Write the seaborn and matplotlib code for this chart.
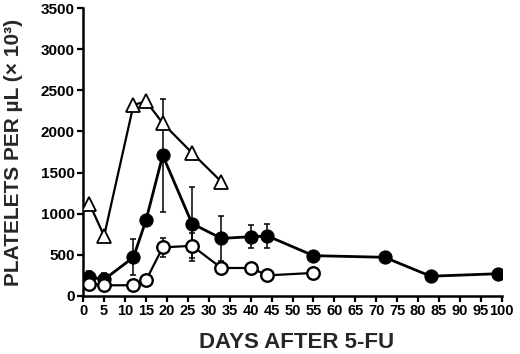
import pandas as pd
import seaborn as sns
import matplotlib.pyplot as plt

# Day after 5-FU and platelet counts (x 10^3 per uL)
tri_days = [1.5, 5, 12, 15, 19, 26, 33]
tri_vals = [1120, 730, 2320, 2370, 2100, 1740, 1390]

filled_days = [1.5, 5, 12, 15, 19, 26, 33, 40, 44, 55, 72, 83, 99]
filled_vals = [230, 200, 470, 920, 1710, 880, 700, 720, 730, 490, 470, 240, 270]
filled_err = [70, 80, 220, 0, 690, 450, 270, 140, 150, 0, 0, 0, 0]

open_days = [1.5, 5, 12, 15, 19, 26, 33, 40, 44, 55]
open_vals = [150, 130, 130, 190, 590, 610, 340, 340, 250, 280]
open_err = [0, 0, 0, 0, 115, 150, 0, 0, 0, 0]

x_ticks = list(range(0, 101, 5))
y_ticks = list(range(0, 3501, 500))


def main():
    sns.set_style('ticks')
    plt.rcParams['font.family'] = ['Liberation Sans', 'DejaVu Sans']
    plt.rcParams['font.weight'] = 'bold'

    fig = plt.figure(figsize=(5.2, 3.54), dpi=100)
    ax = fig.add_axes([0.160, 0.164, 0.805, 0.813])

    df_tri = pd.DataFrame({'day': tri_days, 'count': tri_vals})
    df_filled = pd.DataFrame({'day': filled_days, 'count': filled_vals, 'err': filled_err})
    df_open = pd.DataFrame({'day': open_days, 'count': open_vals, 'err': open_err})

    # error bars first, markers drawn on top
    ax.errorbar(df_filled['day'], df_filled['count'], yerr=df_filled['err'], fmt='none',
                ecolor='black', elinewidth=1.1, capsize=2.5, capthick=1.1, zorder=2)
    ax.errorbar(df_open['day'], df_open['count'], yerr=df_open['err'], fmt='none',
                ecolor='black', elinewidth=1.1, capsize=2.5, capthick=1.1, zorder=2)

    sns.lineplot(data=df_tri, x='day', y='count', ax=ax, color='black', linewidth=1.6,
                 marker='^', markersize=9.5, markerfacecolor='white', markeredgecolor='black',
                 markeredgewidth=1.3, zorder=3)
    sns.lineplot(data=df_filled, x='day', y='count', ax=ax, color='black', linewidth=2.0,
                 marker='o', markersize=9.5, markerfacecolor='black', markeredgecolor='black',
                 zorder=4)
    sns.lineplot(data=df_open, x='day', y='count', ax=ax, color='black', linewidth=1.6,
                 marker='o', markersize=9, markerfacecolor='white', markeredgecolor='black',
                 markeredgewidth=1.7, zorder=5)

    ax.set_xlim(0, 100)
    ax.set_ylim(0, 3500)
    ax.set_xticks(x_ticks)
    ax.set_yticks(y_ticks)
    ax.set_xticklabels([str(t) for t in x_ticks], fontsize=10.5, fontweight='bold')
    ax.set_yticklabels([str(t) for t in y_ticks], fontsize=11, fontweight='bold')
    ax.tick_params(direction='out', length=4, width=1.6, pad=2, colors='black')
    for side in ['left', 'bottom']:
        ax.spines[side].set_linewidth(1.8)
        ax.spines[side].set_color('black')
    sns.despine(ax=ax)

    ax.set_xlabel('DAYS AFTER 5-FU', fontsize=16, fontweight='bold')
    ax.set_ylabel('PLATELETS PER \u00b5L (\u00d7 10\u00b3)', fontsize=15,
                  fontweight='bold')
    ax.xaxis.set_label_coords(0.51, -0.125)
    ax.yaxis.set_label_coords(-0.166, 0.5)
    ax.yaxis.label.set_va('center')

    fig.savefig('out.png', dpi=100)
    plt.close(fig)


if __name__ == '__main__':
    main()
